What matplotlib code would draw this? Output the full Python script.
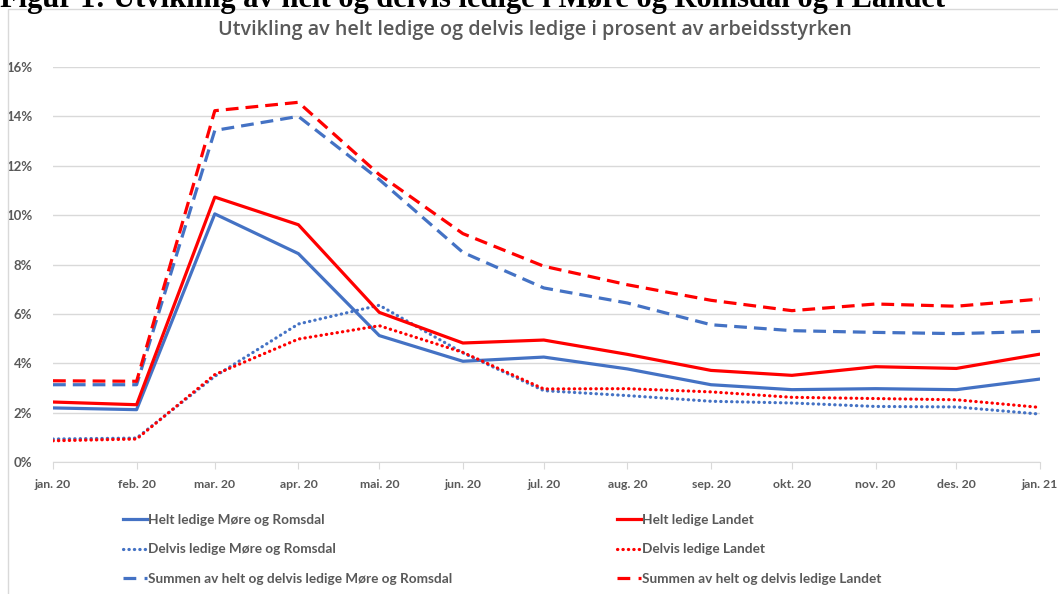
import matplotlib
matplotlib.use("Agg")
import matplotlib.pyplot as plt
from matplotlib.patches import Rectangle
from matplotlib.lines import Line2D
import datetime as dt

months = ["2020-01", "2020-02", "2020-03", "2020-04", "2020-05", "2020-06", "2020-07",
          "2020-08", "2020-09", "2020-10", "2020-11", "2020-12", "2021-01"]
tick_labels = ["jan. 20", "feb. 20", "mar. 20", "apr. 20", "mai. 20", "jun. 20", "jul. 20",
               "aug. 20", "sep. 20", "okt. 20", "nov. 20", "des. 20", "jan. 21"]

helt_mr = [2.19, 2.12, 10.05, 8.44, 5.12, 4.08, 4.25, 3.77, 3.13, 2.93, 2.97, 2.93, 3.36]
helt_land = [2.43, 2.32, 10.73, 9.61, 6.06, 4.82, 4.94, 4.36, 3.71, 3.51, 3.86, 3.79, 4.37]
delvis_mr = [0.93, 0.97, 3.47, 5.59, 6.35, 4.42, 2.89, 2.69, 2.46, 2.39, 2.25, 2.23, 1.94]
delvis_land = [0.86, 0.93, 3.54, 4.98, 5.52, 4.44, 2.96, 2.97, 2.84, 2.62, 2.57, 2.52, 2.21]
sum_mr = [3.13, 3.13, 13.43, 14.00, 11.44, 8.49, 7.05, 6.44, 5.56, 5.32, 5.25, 5.20, 5.29]
sum_land = [3.29, 3.27, 14.23, 14.57, 11.64, 9.25, 7.93, 7.18, 6.55, 6.13, 6.40, 6.31, 6.60]

labels = ["Helt ledige Møre og Romsdal", "Delvis ledige Møre og Romsdal",
          "Summen av helt og delvis ledige Møre og Romsdal",
          "Helt ledige Landet", "Delvis ledige Landet",
          "Summen av helt og delvis ledige Landet"]

dates = [dt.datetime.strptime(m + "-01", "%Y-%m-%d") for m in months]

BLUE = "#4472C4"
RED = "#FF0000"
GRAY = "#595959"
FONT = "Lato"

W, H = 1058, 594
fig = plt.figure(figsize=(W / 100, H / 100), dpi=100)

# heading (cut off at top, as in the source document)
fig.text(0.0, 1 - 6.5 / H, "Figur 1: Utvikling av helt og delvis ledige i Møre og Romsdal og i Landet",
         family="Liberation Serif", weight="bold", fontsize=22, va="baseline", ha="left", color="black")

# chart frame
fig.patches.append(Rectangle((8 / W, -0.1), 1.2, 1 - 9 / H + 0.1, transform=fig.transFigure,
                             fill=False, edgecolor="#d9d9d9", linewidth=1.0))

ax = fig.add_axes([53 / W, 1 - 462 / H, (1040 - 53) / W, (462 - 67) / H])

lw = 2.3
dot = (0, (0.1, 1.6))
dash = (0, (4, 2.2))
ax.plot(dates, helt_mr, color=BLUE, lw=lw, solid_capstyle="round")
ax.plot(dates, delvis_mr, color=BLUE, lw=lw, linestyle=dot, dash_capstyle="round")
ax.plot(dates, sum_mr, color=BLUE, lw=lw, linestyle=dash)
ax.plot(dates, helt_land, color=RED, lw=lw, solid_capstyle="round")
ax.plot(dates, delvis_land, color=RED, lw=lw, linestyle=dot, dash_capstyle="round")
ax.plot(dates, sum_land, color=RED, lw=lw, linestyle=dash)

ax.set_ylim(0, 16)
ax.set_yticks(range(0, 17, 2))
ax.set_yticklabels([f"{v}%" for v in range(0, 17, 2)])
ax.set_xlim(dates[0], dates[-1])
ax.set_xticks(dates)
ax.set_xticklabels(tick_labels)

ax.grid(axis="y", color="#d9d9d9", lw=1.0)
ax.set_axisbelow(True)
for s in ["top", "right", "left"]:
    ax.spines[s].set_visible(False)
ax.spines["bottom"].set_color("#d9d9d9")
ax.tick_params(axis="x", direction="out", length=5, color="#d9d9d9", pad=7)
ax.tick_params(axis="y", length=0, pad=15)
for t in ax.get_xticklabels():
    t.set_family(FONT); t.set_weight("bold"); t.set_color(GRAY); t.set_fontsize(8.8)
for t in ax.get_yticklabels():
    t.set_family(FONT); t.set_weight("bold"); t.set_color(GRAY); t.set_fontsize(9.5)

fig.text(535 / W, 1 - 30 / H, "Utvikling av helt ledige og delvis ledige i prosent av arbeidsstyrken",
         family="Open Sans", weight="semibold", fontsize=14.2, color=GRAY, ha="center", va="center")

# legends
def handles(color):
    return [Line2D([], [], color=color, lw=lw),
            Line2D([], [], color=color, lw=lw, linestyle=dot, dash_capstyle="round"),
            Line2D([], [], color=color, lw=lw, linestyle=(0, (4, 2.6)))]

leg_kw = dict(frameon=False, handlelength=1.75, handletextpad=0.08, labelspacing=1.28,
              borderpad=0, borderaxespad=0,
              prop={"family": FONT, "size": 9.8, "weight": "bold"}, labelcolor=GRAY, loc="upper left")
leg1 = fig.legend(handles(BLUE), labels[:3], bbox_to_anchor=(123 / W, 1 - 514 / H), **leg_kw)
leg2 = fig.legend(handles(RED), labels[3:], bbox_to_anchor=(617 / W, 1 - 514 / H), **leg_kw)

fig.savefig("out.png", dpi=100)
